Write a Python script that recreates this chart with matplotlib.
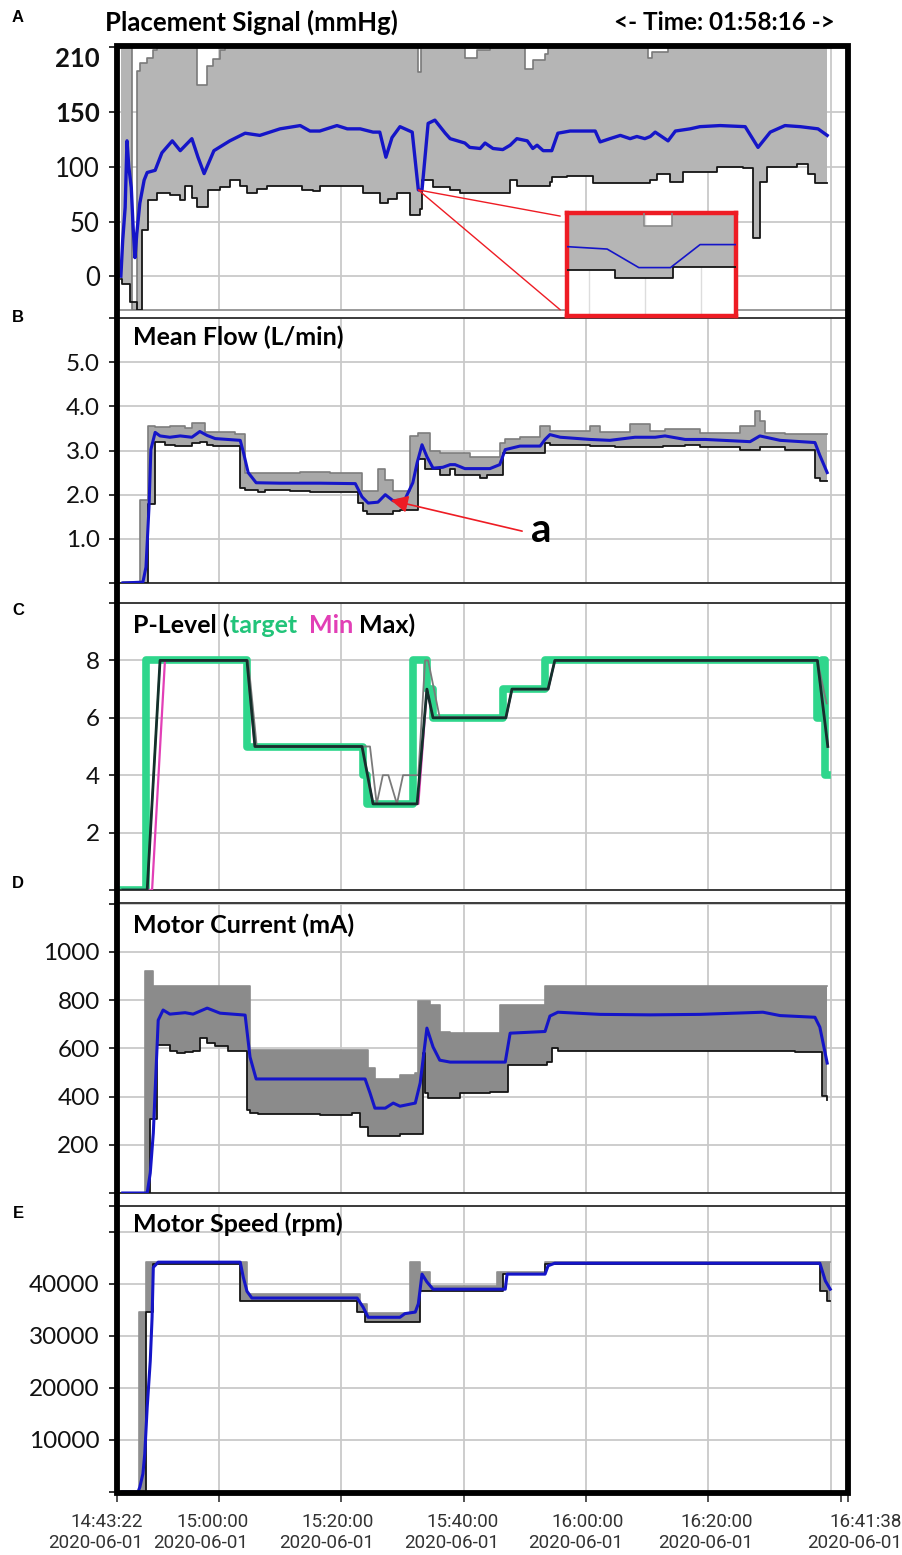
import matplotlib
matplotlib.use("Agg")
from matplotlib import pyplot as plt
from matplotlib import transforms
from matplotlib.patches import Rectangle, ConnectionPatch
import numpy as np

plt.rcParams['font.family'] = ['Lato', 'DejaVu Sans']

# time is in minutes after 14:00
T_FIRST = 43 + 22 / 60.0   # 14:43:22
T_LAST = 161 + 38 / 60.0   # 16:41:38
T_RIGHT = 162.8
grid_times = [60, 80, 100, 120, 140, 160]
tick_times = [T_FIRST, 60, 80, 100, 120, 140, T_LAST]
tick_labels = ["14:43:22", "15:00:00", "15:20:00", "15:40:00", "16:00:00", "16:20:00", "16:41:38"]
date_label = "2020-06-01"

# A: placement signal (mmHg)
ps_mean = [(44.0, 0), (44.3, 33), (44.7, 63), (45.0, 124), (45.3, 100), (45.7, 81), (46.0, 45),
           (46.3, 17), (46.6, 39), (47.1, 67), (47.8, 88), (48.3, 95), (49.6, 97), (50.7, 113),
           (52.4, 124), (53.7, 115), (55.6, 126), (56.6, 109), (57.6, 94), (59.2, 115), (61.8, 124),
           (64.3, 131), (66.7, 129), (70.0, 135), (73.3, 138), (74.9, 133), (76.5, 133), (79.3, 138),
           (81.0, 135), (83.1, 135), (85.2, 132), (86.3, 132), (87.3, 109), (88.3, 127), (89.6, 137),
           (91.6, 132), (92.6, 79), (93.2, 79), (94.2, 140), (95.3, 143), (97.0, 131), (97.8, 126),
           (100.2, 122), (101.0, 118), (102.7, 117), (103.5, 122), (104.8, 117), (106.4, 116),
           (107.6, 120), (108.7, 126), (110.4, 124), (111.3, 117), (112.0, 120), (113.0, 115),
           (114.4, 115), (115.4, 131), (117.4, 133), (119.0, 133), (121.5, 133), (122.3, 123),
           (123.9, 126), (125.6, 129), (127.2, 126), (128.3, 128), (129.6, 126), (130.5, 128),
           (131.3, 132), (133.4, 124), (134.6, 133), (137.0, 135), (138.6, 137), (141.9, 138),
           (146.0, 137), (148.1, 118), (150.1, 132), (152.5, 138), (155.0, 137), (157.9, 135),
           (159.4, 129)]
ps_min = [(44.0, -3), (44.2, -7), (45.5, -24), (46.6, -31), (47.5, 42), (48.4, 70), (49.9, 76),
          (52.0, 74), (53.7, 70), (54.5, 83), (55.6, 72), (56.4, 63), (58.2, 79), (60.2, 82),
          (61.8, 88), (63.5, 83), (64.6, 76), (66.2, 80), (67.9, 83), (73.6, 79), (75.4, 78),
          (76.5, 83), (83.6, 76), (86.3, 67), (87.7, 71), (89.1, 76), (91.3, 56), (92.9, 62),
          (93.2, 88), (95.0, 82), (97.8, 79), (99.4, 76), (107.6, 88), (108.7, 83), (114.1, 86),
          (114.4, 91), (116.9, 92), (121.2, 85), (130.5, 88), (131.6, 94), (133.7, 86), (135.9, 95),
          (141.4, 100), (145.7, 99), (147.3, 35), (148.4, 86), (149.6, 100), (154.5, 103),
          (156.3, 94), (157.4, 85), (159.4, 85)]
ps_max = [(44.0, 230), (45.8, -31), (46.6, 188), (47.1, 195), (48.3, 200), (49.3, 207), (49.9, 230),
          (56.4, 175), (58.1, 193), (59.1, 199), (60.2, 207), (61.0, 230), (92.6, 187), (93.0, 230),
          (100.2, 200), (102.2, 207), (104.3, 230), (110.0, 190), (111.3, 198), (113.3, 204),
          (113.8, 230), (130.1, 200), (130.8, 205), (133.4, 230), (159.4, 230)]

# A inset (zoom on the dip)
inset_mean = [(91.9, 90.2), (92.28, 89.5), (92.58, 84.1), (92.88, 84.1), (93.16, 90.8), (93.5, 90.8)]
inset_min = [(91.9, 83.5), (92.35, 81.0), (92.9, 84.4), (93.5, 84.4)]
inset_max = [(91.9, 110), (92.63, 96.3), (92.89, 110), (93.5, 110)]
inset_grid = [92.11, 92.64, 93.17]

# B: mean flow (L/min)
flow_mean = [(44.3, 0.0), (47.6, 0.02), (48.1, 0.36), (48.6, 1.73), (48.9, 3.02), (49.6, 3.41),
             (50.4, 3.33), (52.0, 3.3), (53.7, 3.33), (55.6, 3.3), (56.9, 3.43), (58.1, 3.34),
             (59.4, 3.27), (63.5, 3.23), (64.0, 2.97), (64.8, 2.5), (66.1, 2.27), (70.0, 2.26),
             (76.5, 2.26), (82.3, 2.25), (83.4, 1.95), (84.4, 1.81), (86.0, 1.83), (87.2, 2.0),
             (88.5, 1.86), (90.4, 1.89), (91.7, 2.27), (92.4, 2.72), (93.2, 3.13), (94.0, 2.86),
             (95.0, 2.6), (96.6, 2.62), (97.8, 2.68), (98.6, 2.68), (100.2, 2.59), (104.3, 2.59),
             (105.9, 2.68), (106.8, 3.02), (109.2, 3.1), (112.5, 3.1), (113.3, 3.25), (114.1, 3.36),
             (115.8, 3.3), (120.7, 3.25), (123.9, 3.23), (128.0, 3.3), (131.3, 3.3), (132.9, 3.33),
             (136.2, 3.25), (139.5, 3.25), (146.8, 3.2), (148.4, 3.33), (151.7, 3.23), (157.4, 3.18),
             (158.2, 2.89), (159.4, 2.5)]
flow_min = [(44.3, 0), (48.4, 1.8), (49.6, 3.2), (51.2, 3.13), (52.8, 3.1), (55.6, 3.18), (56.9, 3.2),
            (58.1, 3.13), (59.1, 3.1), (63.5, 2.15), (64.3, 2.1), (66.4, 2.05), (67.5, 2.1),
            (71.6, 2.08), (74.9, 2.05), (82.8, 1.82), (83.6, 1.62), (84.2, 1.57), (88.5, 1.62),
            (89.6, 1.65), (92.6, 2.8), (93.7, 2.57), (96.1, 2.45), (97.8, 2.57), (98.6, 2.45),
            (102.7, 2.38), (103.8, 2.45), (106.4, 2.95), (113.3, 3.18), (114.1, 3.13), (120.7, 3.1),
            (124.7, 3.07), (132.6, 3.1), (136.2, 3.12), (138.6, 3.07), (145.2, 3.02), (148.4, 3.07),
            (152.5, 3.02), (157.4, 2.38), (158.2, 2.3), (159.4, 2.3)]
flow_max = [(44.3, 0.02), (47.1, 1.89), (48.4, 3.55), (49.6, 3.53), (52.0, 3.55), (54.5, 3.5),
            (55.6, 3.63), (57.8, 3.43), (62.7, 3.37), (64.3, 2.48), (68.4, 2.5), (73.3, 2.52),
            (78.2, 2.48), (81.4, 2.5), (83.4, 2.08), (86.0, 2.57), (87.2, 2.34), (88.5, 2.08),
            (91.3, 3.32), (92.6, 3.4), (94.5, 2.98), (96.1, 2.95), (101.0, 2.86), (105.9, 3.18),
            (106.8, 3.25), (109.2, 3.3), (112.5, 3.55), (114.1, 3.45), (120.7, 3.55), (122.3, 3.43),
            (127.2, 3.59), (130.5, 3.45), (132.9, 3.48), (138.6, 3.4), (145.2, 3.55), (147.6, 3.89),
            (148.4, 3.66), (149.3, 3.4), (152.5, 3.38), (159.4, 3.38)]

# C: P-level
p_target = [(44.3, 0), (48.1, 8), (64.6, 5), (83.6, 4), (84.2, 3), (91.7, 8), (94.0, 7), (95.0, 6),
            (106.4, 7), (113.3, 8), (157.8, 6), (158.6, 8), (159.1, 4), (159.4, 4)]
p_min = [(44.3, 0), (49.1, 0), (51.2, 8), (64.6, 8), (65.9, 5), (83.4, 5), (85.2, 3), (92.6, 3),
         (94.0, 7), (95.0, 6), (106.9, 6), (107.9, 7), (113.8, 7), (114.9, 8), (157.8, 8), (159.5, 5)]
p_max = [(44.3, 0), (48.3, 0), (50.4, 8), (64.6, 8), (65.9, 5), (83.4, 5), (85.2, 3), (92.4, 3),
         (94.0, 7), (95.0, 6), (106.9, 6), (107.9, 7), (113.8, 7), (114.9, 8), (157.8, 8), (159.5, 5)]
p_actual = [(48.3, 0), (50.4, 8), (64.8, 8), (66.2, 5), (83.6, 5), (84.7, 5), (85.8, 3), (86.8, 4),
            (87.7, 4), (89.1, 3), (90.1, 4), (91.7, 4), (92.6, 4), (93.7, 8), (94.2, 8), (96.1, 6),
            (106.9, 6), (107.9, 7), (113.8, 7), (114.9, 8), (157.8, 8), (159.3, 6.5)]

# D: motor current (mA)
cur_mean = [(44.3, 0), (48.3, 0), (48.8, 83), (49.3, 249), (50.1, 717), (50.9, 759), (52.0, 742),
            (54.5, 748), (55.8, 742), (58.1, 767), (60.2, 746), (64.3, 738), (65.1, 564), (66.1, 473),
            (73.3, 473), (83.9, 473), (84.7, 415), (85.5, 352), (87.2, 352), (88.5, 373), (89.6, 360),
            (92.1, 373), (92.9, 456), (94.0, 684), (95.0, 606), (96.1, 551), (97.8, 543), (106.8, 543),
            (107.6, 663), (113.3, 670), (114.1, 734), (115.4, 750), (122.3, 741), (130.5, 739),
            (138.6, 741), (148.9, 750), (151.7, 736), (157.4, 729), (158.2, 688), (159.4, 539)]
cur_min = [(44.3, 0), (48.8, 307), (49.9, 614), (52.0, 589), (53.2, 580), (54.5, 585), (55.8, 589),
           (56.9, 643), (58.1, 622), (59.4, 608), (61.5, 589), (64.6, 344), (65.1, 332), (66.4, 328),
           (76.5, 324), (81.8, 332), (83.1, 274), (84.4, 236), (89.6, 245), (93.4, 580), (93.7, 415),
           (94.2, 394), (97.8, 396), (99.4, 415), (104.3, 419), (107.3, 530), (113.6, 543),
           (114.4, 601), (115.4, 589), (154.2, 585), (158.6, 402), (159.4, 386)]
cur_max = [(44.3, 0), (47.9, 920), (49.3, 858), (65.1, 593), (84.4, 518), (85.5, 473), (89.6, 489),
           (92.1, 498), (92.6, 796), (94.5, 779), (96.1, 668), (97.8, 663), (105.9, 779),
           (113.3, 858), (159.4, 858)]

# E: motor speed (rpm)
spd_mean = [(44.3, 0), (46.8, 0), (47.1, 960), (47.6, 3500), (47.9, 7300), (48.3, 16300),
            (48.8, 25200), (49.1, 33600), (49.3, 43200), (50.1, 44200), (63.5, 44200), (64.0, 41300),
            (64.6, 38600), (65.4, 37300), (82.6, 37300), (83.6, 35500), (84.4, 33600), (89.6, 33600),
            (90.4, 34300), (92.1, 34600), (92.6, 36200), (93.2, 41900), (94.0, 40400), (95.0, 39000),
            (106.8, 39000), (107.1, 41900), (113.3, 41900), (113.8, 43500), (114.9, 44000),
            (158.2, 44000), (159.1, 40600), (159.9, 39000)]
spd_min = [(44.3, 0), (48.1, 34600), (49.3, 43800), (63.5, 36800), (82.6, 34600), (83.9, 32700),
           (92.9, 38700), (106.4, 41900), (113.3, 43800), (158.2, 38700), (159.4, 36700), (159.9, 36700)]
spd_max = [(44.3, 0), (47.0, 34600), (48.1, 44200), (64.6, 38000), (83.1, 36200), (84.2, 34400),
           (91.3, 44200), (92.9, 42300), (94.5, 39700), (105.5, 42300), (113.3, 44200), (159.9, 44200)]

BLUE = '#1515c8'
GRID = '#c9c9c9'
W, H = 902, 1555

fig = plt.figure(figsize=(W / 100, H / 100), dpi=100)


def panel(top, bottom):
    return fig.add_axes([117 / W, 1 - bottom / H, 731 / W, (bottom - top) / H])


def step_at(pairs, t):
    idx = np.searchsorted(pairs[:, 0], t, side='right') - 1
    return pairs[np.clip(idx, 0, None), 1]


def draw_band(ax, lo, hi, mean, fill, edge, lw_mean=2.2):
    lo = np.array(lo, dtype=float)
    hi = np.array(hi, dtype=float)
    tt = np.union1d(lo[:, 0], hi[:, 0])
    ax.fill_between(tt, step_at(lo, tt), step_at(hi, tt), step='post', color=fill, lw=0, zorder=2)
    ax.step(hi[:, 0], hi[:, 1], where='post', color=edge, lw=1.2, zorder=3)
    ax.step(lo[:, 0], lo[:, 1], where='post', color='#151515', lw=1.3, zorder=3)
    m = np.array(mean, dtype=float)
    ax.plot(m[:, 0], m[:, 1], color=BLUE, lw=lw_mean, zorder=4)


def style(ax, ylim, yticks, ylabels, size=17.5):
    ax.set_xlim(T_FIRST, T_RIGHT)
    ax.set_ylim(*ylim)
    ax.set_yticks(yticks)
    ax.set_yticklabels(ylabels)
    ax.tick_params(axis='y', direction='out', length=6, width=1.2, pad=6.5, labelsize=size,
                   colors='#111111')
    ax.set_xticks([])
    ax.grid(axis='y', color=GRID, lw=1.3, zorder=0)
    for t in grid_times:
        ax.axvline(t, color=GRID, lw=1.3, zorder=0)
    for s in ['left', 'right']:
        ax.spines[s].set_visible(False)
    for s in ['top', 'bottom']:
        ax.spines[s].set_color('#3a3a3a')
        ax.spines[s].set_linewidth(1.4)


def title(ax, parts, y):
    tr = ax.transAxes
    r = fig.canvas.get_renderer()
    for s, c in parts:
        txt = ax.text(0.022, y, s, color=c, transform=tr, fontsize=18, fontweight='bold',
                      va='center', zorder=6)
        txt.draw(r)
        ex = txt.get_window_extent(r)
        tr = transforms.offset_copy(txt.get_transform(), x=ex.width, units='dots')


# A
ax_a = panel(47, 310)
draw_band(ax_a, ps_min, ps_max, ps_mean, '#b5b5b5', '#7a7a7a', lw_mean=2.4)
style(ax_a, (-31, 210), [0, 50, 100, 150, 210], ['0', '50', '100', '150', '210'], size=18.5)
ax_a.spines['top'].set_visible(False)
ax_a.spines['bottom'].set_color('#9a9a9a')
ylab = ax_a.get_yticklabels()
ylab[-1].set_va('top')
ylab[-1].set_fontweight('bold')
ylab[-2].set_fontweight('bold')

# B
ax_b = panel(318, 583)
draw_band(ax_b, flow_min, flow_max, flow_mean, '#a8a8a8', '#7d7d7d')
style(ax_b, (0, 6), [0, 1, 2, 3, 4, 5, 6], ['', '1.0', '2.0', '3.0', '4.0', '5.0', ''])
title(ax_b, [('Mean Flow (L/min)', 'black')], 0.928)
ax_b.annotate('', xy=(87.65, 1.89), xytext=(110.0, 1.16),
              arrowprops=dict(arrowstyle='-|>', color='#ee1c24', lw=1.2, mutation_scale=26),
              zorder=7)
ax_b.text(111.0, 1.2, 'a', fontsize=29, fontweight='bold', va='center', ha='left', zorder=7)

# C
ax_c = panel(603, 890)
style(ax_c, (0, 10), [0, 2, 4, 6, 8, 10], ['', '2', '4', '6', '8', ''])
pt = np.array(p_target, dtype=float)
ax_c.step(pt[:, 0], pt[:, 1], where='post', color='#2fd68c', lw=5.5, zorder=2)
pm = np.array(p_min, dtype=float)
ax_c.plot(pm[:, 0], pm[:, 1], color='#e23fb6', lw=1.6, zorder=3)
pa = np.array(p_actual, dtype=float)
ax_c.plot(pa[:, 0], pa[:, 1], color='#7a7a7a', lw=1.3, zorder=3)
px = np.array(p_max, dtype=float)
ax_c.plot(px[:, 0], px[:, 1], color='#13302b', lw=2.0, zorder=4)
title(ax_c, [('P-Level (', 'black'), ('target  ', '#22c47a'), ('Min ', '#e23fb6'),
             ('Max)', 'black')], 0.923)

# D
ax_d = panel(903, 1193)
draw_band(ax_d, cur_min, cur_max, cur_mean, '#8b8b8b', '#8b8b8b')
style(ax_d, (0, 1203), [0, 200, 400, 600, 800, 1000, 1200],
      ['', '200', '400', '600', '800', '1000', ''])
title(ax_d, [('Motor Current (mA)', 'black')], 0.924)

# E
ax_e = panel(1206, 1492)
draw_band(ax_e, spd_min, spd_max, spd_mean, '#8f8f8f', '#8f8f8f')
style(ax_e, (0, 55000), [0, 10000, 20000, 30000, 40000, 50000, 55000],
      ['', '10000', '20000', '30000', '40000', '', ''])
ax_e.spines['bottom'].set_visible(False)
ax_e.set_xticks(tick_times + [T_RIGHT])
ax_e.set_xticklabels([lab + '\n' + date_label for lab in tick_labels] + [''],
                     family=['Liberation Sans Narrow', 'Roboto'], fontsize=13.5, color='#2b2b2b',
                     linespacing=1.2)
ax_e.tick_params(axis='x', direction='out', length=7, width=1.2, pad=8, colors='#333333')
# the date labels sit a little left of their ticks in the original export
label_shift = [-21, -18, -15, -12, -10, -3, 14, 0]
for lab, dx in zip(ax_e.get_xticklabels(), label_shift):
    lab.set_multialignment('right')
    lab.set_transform(lab.get_transform() + transforms.ScaledTranslation(dx / 100, 0, fig.dpi_scale_trans))
title(ax_e, [('Motor Speed (rpm)', 'black')], 0.937)

# inset on panel A
ax_in = fig.add_axes([567 / W, 1 - 316 / H, 169 / W, 103 / H])
ax_in.set_zorder(8)
draw_band(ax_in, inset_min, inset_max, inset_mean, '#b5b5b5', '#8a8a8a', lw_mean=1.2)
ax_in.set_xlim(91.9, 93.5)
ax_in.set_ylim(70, 100)
for t in inset_grid:
    ax_in.axvline(t, color='#dddddd', lw=1.0, zorder=1)
ax_in.set_xticks([])
ax_in.set_yticks([])
for s in ax_in.spines.values():
    s.set_color('#ee1c24')
    s.set_linewidth(3.2)
for yb in (0.97, 0.06):
    con = ConnectionPatch(xyA=(92.6, 79), coordsA=ax_a.transData, xyB=(-0.04, yb),
                          coordsB=ax_in.transAxes, color='#ee1c24', lw=1.0, zorder=7)
    fig.add_artist(con)

# outer frame
fig.add_artist(Rectangle((117 / W, 1 - 1493 / H), 731 / W, 1447 / H, transform=fig.transFigure,
                         fill=False, lw=4.2, ec='black', zorder=20))

# headings
fig.text(105 / W, 1 - 22 / H, 'Placement Signal (mmHg)', fontsize=18.5, fontweight='bold',
         va='center', ha='left')
fig.text(835 / W, 1 - 22 / H, '<- Time: 01:58:16 ->', fontsize=17.5, fontweight='bold',
         va='center', ha='right')
for letter, y in zip('ABCDE', [18, 318, 610, 883, 1213]):
    fig.text(18 / W, 1 - y / H, letter, fontsize=12, fontweight='bold', ha='center', va='center',
             family=['Liberation Sans', 'DejaVu Sans'])

fig.savefig('out.png', dpi=100)
